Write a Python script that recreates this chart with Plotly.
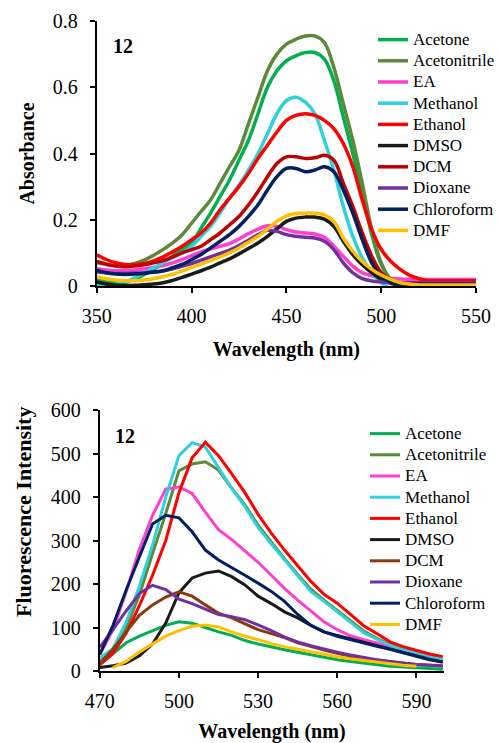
import plotly.graph_objects as go

# ---------------- data ----------------
solvents = ["Acetone", "Acetonitrile", "EA", "Methanol", "Ethanol",
            "DMSO", "DCM", "Dioxane", "Chloroform", "DMF"]

abs_colors = ["#00b050", "#5b8a3a", "#ff3fd0", "#2fd0e0", "#ff0000",
              "#1a1a1a", "#c00000", "#7030a0", "#002060", "#ffc000"]
fl_colors = ["#00b050", "#5b8a3a", "#ff3fd0", "#2fd0e0", "#ff0000",
             "#1a1a1a", "#8b3a0f", "#7030a0", "#002060", "#ffc000"]

# Absorption spectra, 350-550 nm every 5 nm
abs_wl = list(range(350, 551, 5))

abs_acetone = [0.02, 0.012, 0.01, 0.012, 0.02, 0.035, 0.05, 0.07, 0.09, 0.11,
               0.13, 0.175, 0.22, 0.27, 0.32, 0.38, 0.44, 0.52, 0.60, 0.65,
               0.68, 0.695, 0.705, 0.705, 0.685, 0.62, 0.51, 0.40, 0.28, 0.155,
               0.065, 0.02, 0.005, 0, 0, 0, 0, 0, 0, 0, 0]
abs_acetonitrile = [0.07, 0.065, 0.062, 0.063, 0.068, 0.078, 0.093, 0.11, 0.13, 0.155,
                    0.19, 0.225, 0.26, 0.31, 0.36, 0.41, 0.49, 0.57, 0.65, 0.70,
                    0.73, 0.745, 0.755, 0.755, 0.735, 0.66, 0.55, 0.44, 0.31, 0.17,
                    0.07, 0.02, 0.005, 0, 0, 0, 0, 0, 0, 0, 0]
abs_ea = [0.052, 0.048, 0.046, 0.046, 0.048, 0.052, 0.056, 0.062, 0.07, 0.08,
          0.092, 0.103, 0.112, 0.12, 0.128, 0.142, 0.158, 0.172, 0.182, 0.18,
          0.17, 0.163, 0.16, 0.157, 0.147, 0.12, 0.09, 0.06, 0.04, 0.031,
          0.026, 0.023, 0.021, 0.02, 0.02, 0.02, 0.02, 0.02, 0.02, 0.02, 0.02]
abs_methanol = [0.005, 0.002, 0.005, 0.012, 0.025, 0.04, 0.055, 0.07, 0.085, 0.10,
                0.12, 0.15, 0.18, 0.22, 0.265, 0.305, 0.35, 0.40, 0.46, 0.52,
                0.56, 0.57, 0.555, 0.52, 0.44, 0.35, 0.24, 0.15, 0.085, 0.04,
                0.01, -0.01, -0.02, -0.02, -0.02, -0.02, -0.02, -0.02, -0.02, -0.02, -0.02]
abs_ethanol = [0.094, 0.08, 0.07, 0.065, 0.064, 0.068, 0.076, 0.088, 0.103, 0.12,
               0.14, 0.16, 0.19, 0.23, 0.265, 0.30, 0.34, 0.385, 0.425, 0.465,
               0.50, 0.515, 0.52, 0.515, 0.50, 0.475, 0.43, 0.36, 0.26, 0.17,
               0.11, 0.075, 0.05, 0.032, 0.022, 0.016, 0.016, 0.016, 0.016, 0.016, 0.016]
abs_dmso = [0.012, 0.006, 0.003, 0.002, 0.002, 0.004, 0.006, 0.01, 0.017, 0.026,
            0.036, 0.046, 0.057, 0.07, 0.082, 0.097, 0.113, 0.13, 0.15, 0.173,
            0.195, 0.205, 0.208, 0.208, 0.202, 0.18, 0.135, 0.095, 0.064, 0.04,
            0.02, 0.008, 0.002, 0.002, 0.002, 0.002, 0.002, 0.002, 0.002, 0.002, 0.002]
abs_dcm = [0.074, 0.066, 0.06, 0.058, 0.06, 0.064, 0.07, 0.077, 0.088, 0.10,
           0.11, 0.12, 0.14, 0.16, 0.185, 0.21, 0.245, 0.285, 0.33, 0.37,
           0.39, 0.39, 0.385, 0.387, 0.395, 0.38, 0.31, 0.24, 0.16, 0.09,
           0.04, 0.02, 0.01, 0.01, 0.01, 0.01, 0.01, 0.01, 0.01, 0.01, 0.01]
abs_dioxane = [0.042, 0.04, 0.038, 0.038, 0.039, 0.04, 0.042, 0.045, 0.052, 0.06,
               0.068, 0.078, 0.088, 0.098, 0.108, 0.122, 0.138, 0.155, 0.168, 0.165,
               0.155, 0.15, 0.147, 0.145, 0.135, 0.11, 0.07, 0.04, 0.022, 0.015,
               0.012, 0.01, 0.01, 0.01, 0.01, 0.01, 0.01, 0.01, 0.01, 0.01, 0.01]
abs_chloroform = [0.048, 0.04, 0.036, 0.035, 0.036, 0.038, 0.042, 0.046, 0.055, 0.065,
                  0.08, 0.095, 0.115, 0.135, 0.155, 0.18, 0.21, 0.245, 0.29, 0.33,
                  0.355, 0.355, 0.345, 0.35, 0.36, 0.345, 0.29, 0.22, 0.14, 0.07,
                  0.03, 0.012, 0.005, 0.005, 0.005, 0.005, 0.005, 0.005, 0.005, 0.005, 0.005]
abs_dmf = [0.028, 0.022, 0.018, 0.016, 0.016, 0.018, 0.022, 0.028, 0.036, 0.045,
           0.056, 0.066, 0.077, 0.088, 0.10, 0.115, 0.132, 0.15, 0.172, 0.195,
           0.212, 0.219, 0.22, 0.22, 0.215, 0.195, 0.145, 0.105, 0.074, 0.05,
           0.033, 0.02, 0.01, 0.006, 0.003, 0.003, 0.003, 0.003, 0.003, 0.003, 0.003]

abs_series = [abs_acetone, abs_acetonitrile, abs_ea, abs_methanol, abs_ethanol,
              abs_dmso, abs_dcm, abs_dioxane, abs_chloroform, abs_dmf]

# Fluorescence spectra, 470-600 nm every 5 nm
fl_wl = list(range(470, 601, 5))

fl_acetone = [15, 40, 65, 80, 92, 105, 113, 110, 100, 90, 82, 70, 62, 55,
              49, 43, 37, 31, 26, 22, 18, 14, 11, 9, 7, 5, 4]
fl_acetonitrile = [20, 50, 100, 175, 270, 362, 460, 476, 481, 462, 420, 382, 335, 296,
                   258, 222, 188, 163, 140, 115, 92, 75, 61, 50, 41, 33, 27]
fl_ea = [38, 95, 182, 280, 358, 418, 423, 408, 365, 325, 302, 275, 250, 220,
         190, 163, 137, 113, 95, 81, 72, 64, 57, 47, 39, 32, 26]
fl_methanol = [30, 52, 112, 195, 290, 400, 495, 525, 515, 468, 420, 378, 330, 292,
               255, 220, 183, 160, 136, 112, 88, 73, 59, 48, 40, 32, 27]
fl_ethanol = [14, 41, 87, 150, 220, 300, 410, 490, 526, 495, 453, 410, 360, 317,
              278, 243, 206, 176, 156, 130, 104, 86, 67, 56, 47, 39, 33]
fl_dmso = [8, 12, 18, 35, 62, 110, 180, 214, 225, 230, 217, 198, 172, 155,
           136, 122, 105, 90, 82, 74, 66, 58, 50, 42, 34, 27, 21]
fl_dcm = [18, 50, 90, 128, 152, 170, 182, 172, 152, 133, 122, 108, 95, 86,
          77, 65, 56, 48, 41, 34, 29, 25, 21, 18, 15, 13, 12]
fl_dioxane = [55, 95, 138, 178, 197, 187, 165, 155, 142, 130, 125, 118, 106, 93,
              78, 67, 58, 50, 43, 37, 31, 26, 22, 18, 15, 13, 11]
fl_chloroform = [38, 105, 186, 262, 338, 358, 352, 320, 278, 255, 238, 220, 202, 183,
                 160, 130, 105, 90, 80, 72, 64, 57, 50, 42, 33, 26, 20]
fl_dmf = [None, 8, 22, 44, 62, 80, 93, 103, 106, 101, 90, 80, 72, 63,
          56, 50, 44, 38, 33, 28, 24, 20, 16, 13, 11, None, None]

fl_series = [fl_acetone, fl_acetonitrile, fl_ea, fl_methanol, fl_ethanol,
             fl_dmso, fl_dcm, fl_dioxane, fl_chloroform, fl_dmf]

abs_xticks = [350, 400, 450, 500, 550]
abs_yticks = [0, 0.2, 0.4, 0.6, 0.8]
abs_yticktext = ["0", "0.2", "0.4", "0.6", "0.8"]
fl_xticks = [470, 500, 530, 560, 590]
fl_yticks = [0, 100, 200, 300, 400, 500, 600]

# ---------------- figure ----------------
W, H = 500, 743
FONT = "Liberation Serif"
LEG_TEXT = '<span style="font-size:17px">{}</span>'

fig = go.Figure()

for name, ys, col in zip(solvents, abs_series, abs_colors):
    fig.add_trace(go.Scatter(
        x=abs_wl, y=ys, name=LEG_TEXT.format(name), mode="lines",
        line=dict(color=col, width=3.5, shape="spline", smoothing=1.0),
        xaxis="x", yaxis="y", legend="legend"))

for name, ys, col in zip(solvents, fl_series, fl_colors):
    fig.add_trace(go.Scatter(
        x=fl_wl, y=ys, name=LEG_TEXT.format(name), mode="lines",
        line=dict(color=col, width=3),
        xaxis="x2", yaxis="y2", legend="legend2"))


def px_x(p):
    return p / W


def px_y(p):
    return 1 - p / H


axis_common = dict(
    showgrid=False, zeroline=False, showline=True, linecolor="black", linewidth=2,
    ticks="outside", ticklen=5, tickwidth=1.5, tickcolor="black",
    tickfont=dict(family=FONT, size=20, color="black"), automargin=False,
)
title_font = dict(family=FONT, size=20, color="black")
legend_common = dict(xanchor="left", yanchor="top", bgcolor="rgba(0,0,0,0)",
                     borderwidth=0, font=dict(family=FONT, size=14, color="black"),
                     tracegroupgap=0, itemclick=False, itemdoubleclick=False)

fig.update_layout(
    width=W, height=H,
    margin=dict(l=0, r=0, t=0, b=0),
    paper_bgcolor="white", plot_bgcolor="white",
    font=dict(family=FONT, color="black"),
    xaxis=dict(domain=[px_x(97), px_x(477)], range=[350, 550], tickvals=abs_xticks,
               anchor="y", ticklabelstandoff=6,
               title=dict(text="<b>Wavelength (nm)</b>", font=title_font, standoff=16),
               **axis_common),
    yaxis=dict(domain=[px_y(286), px_y(21)], range=[0, 0.8], tickvals=abs_yticks,
               ticktext=abs_yticktext, anchor="x", ticklabelstandoff=8,
               title=dict(text="<b>Absorbance</b>", font=title_font, standoff=13),
               **axis_common),
    xaxis2=dict(domain=[px_x(100), px_x(445)], range=[470, 600.5], tickvals=fl_xticks,
                anchor="y2", ticklabelstandoff=6,
                title=dict(text="<b>Wavelength (nm)</b>", font=title_font, standoff=16),
                **axis_common),
    yaxis2=dict(domain=[px_y(671), px_y(410)], range=[0, 600], tickvals=fl_yticks,
                anchor="x2", ticklabelstandoff=8,
                **axis_common),
    legend=dict(x=px_x(374), y=px_y(24), **legend_common),
    legend2=dict(x=px_x(365), y=px_y(418), **legend_common),
    showlegend=True,
    annotations=[
        dict(text="<b>12</b>", x=px_x(123), y=px_y(46), xref="paper", yref="paper",
             xanchor="center", yanchor="middle", showarrow=False,
             font=dict(family=FONT, size=20, color="black")),
        dict(text="<b>12</b>", x=px_x(125), y=px_y(436), xref="paper", yref="paper",
             xanchor="center", yanchor="middle", showarrow=False,
             font=dict(family=FONT, size=20, color="black")),
        dict(text="<b>Fluorescence Intensity</b>", x=px_x(23), y=px_y(512),
             xref="paper", yref="paper", xanchor="center", yanchor="middle",
             textangle=-90, showarrow=False,
             font=dict(family=FONT, size=22, color="black")),
    ],
)

fig.write_html("out.html", config={"displayModeBar": False},
               post_script="document.body.style.margin='0';")
